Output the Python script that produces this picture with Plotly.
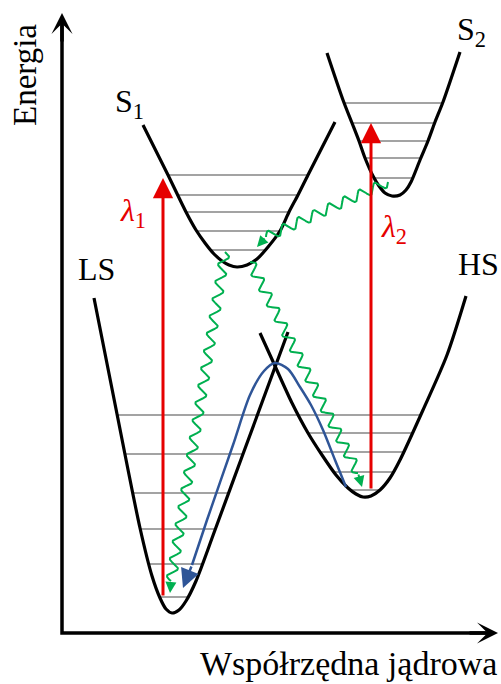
import numpy as np
import plotly.graph_objects as go

# ---- Potential energy curves: nuclear coordinate Q vs energy E ----
ls_q = [32, 55, 78, 90, 98, 104, 110, 117, 124, 134, 153, 181, 226]
ls_e = [335, 219, 105, 57, 35, 24, 20, 23, 32, 52, 103, 179, 301]

hs_q = [198, 213, 230, 246, 260, 274, 286, 294, 301, 309, 318, 328, 338, 361, 385, 404]
hs_e = [300, 267, 230, 200, 178, 158, 145, 139, 136, 137, 143, 155, 173, 223, 278, 337]

s1_q = [81, 106, 124, 134, 143, 152, 160, 167, 175, 185, 195, 206, 218, 227, 236, 246, 273]
s1_e = [508, 458, 421, 403, 390, 379, 372, 368, 366, 368, 374, 386, 402, 421, 438, 458, 511]

s2_q = [265, 281, 290, 297, 303, 311, 317, 323, 330, 338, 344, 349, 358, 366, 373, 381, 398]
s2_e = [580, 533, 510, 492, 475, 457, 447, 440, 437, 438, 443, 451, 473, 492, 511, 531, 581]

# ---- Vibrational levels (energies) ----
ls_levels = [179, 140, 104, 69, 36]
hs_levels = [200, 181, 161, 143]
shared_level = 218          # spans the LS and HS wells together
s1_levels = [458, 438, 421, 402, 383]
s2_levels = [530, 510, 492, 475, 455]

# ---- Transitions ----
lambda1_q, lambda1_from, lambda1_to = 101, 36, 455
lambda2_q, lambda2_from, lambda2_to = 309, 143, 510

# relaxation paths (start, end of wave, arrow tip)
green_paths = [
    ((326, 451), (204, 396), (195, 386)),
    ((163, 381), (109, 52), (108, 40)),
    ((188, 371), (296, 160), (300, 146)),
]

# pathway over the crossing point
blue_q = [284, 273, 261, 249, 238, 226, 213, 202, 188, 171, 145, 130]
blue_e = [146, 173, 203, 228, 246, 264, 270, 262, 238, 188, 113, 68]
blue_tip = (121, 45)

AXIS_Q_END = 436
AXIS_E_END = 620

BLACK = "#000000"
GREY = "#a3a3a3"
RED = "#e60000"
GREEN = "#00b050"
BLUE = "#2f5597"
FONT = "Liberation Serif, Times New Roman, serif"


def crossing(q, e, level, side):
    q = np.asarray(q, float)
    e = np.asarray(e, float)
    i = int(np.argmin(e))
    if side == "left":
        return float(np.interp(level, e[:i + 1][::-1], q[:i + 1][::-1]))
    return float(np.interp(level, e[i:], q[i:]))


def squiggle(p0, p1, amp=4.8, wavelength=17.5):
    p0 = np.asarray(p0, float)
    p1 = np.asarray(p1, float)
    d = p1 - p0
    length = np.hypot(*d)
    n_waves = max(1, round(length / wavelength))
    t = np.linspace(0, 1, int(length * 4))
    normal = np.array([-d[1], d[0]]) / length
    off = amp * np.sin(2 * np.pi * n_waves * t)
    pts = p0[None, :] + t[:, None] * d[None, :] + off[:, None] * normal[None, :]
    return pts[:, 0], pts[:, 1]


fig = go.Figure()


def add_line(x, y, color, width, shape="linear"):
    fig.add_trace(go.Scatter(x=x, y=y, mode="lines", hoverinfo="skip",
                             line=dict(color=color, width=width, shape=shape,
                                       smoothing=0.8)))


# vibrational levels
for curve, levels in (((ls_q, ls_e), ls_levels), ((hs_q, hs_e), hs_levels),
                      ((s1_q, s1_e), s1_levels), ((s2_q, s2_e), s2_levels)):
    for lv in levels:
        add_line([crossing(*curve, lv, "left"), crossing(*curve, lv, "right")],
                 [lv, lv], GREY, 2)
add_line([crossing(ls_q, ls_e, shared_level, "left"),
          crossing(hs_q, hs_e, shared_level, "right")],
         [shared_level, shared_level], GREY, 2)

# potential curves
for q, e in ((ls_q, ls_e), (hs_q, hs_e), (s1_q, s1_e), (s2_q, s2_e)):
    add_line(q, e, BLACK, 3.2, "spline")

# coordinate axes
add_line([0, 0, AXIS_Q_END - 12], [AXIS_E_END - 12, 0, 0], BLACK, 3.5)

# green non-radiative relaxation
for start, end, tip in green_paths:
    wx, wy = squiggle(start, end)
    add_line(wx, wy, GREEN, 2)

# blue pathway
add_line(blue_q, blue_e, BLUE, 2.5, "spline")

annotations = []


def arrow(tip, tail, color, width, size, head):
    annotations.append(dict(x=tip[0], y=tip[1], ax=tail[0], ay=tail[1],
                            xref="x", yref="y", axref="x", ayref="y",
                            showarrow=True, arrowhead=head, arrowsize=size,
                            arrowwidth=width, arrowcolor=color, standoff=0,
                            text=""))


arrow((0, AXIS_E_END), (0, AXIS_E_END - 30), BLACK, 3.5, 1.0, 3)
arrow((AXIS_Q_END, 0), (AXIS_Q_END - 30, 0), BLACK, 3.5, 1.0, 3)

arrow((lambda1_q, lambda1_to), (lambda1_q, lambda1_from), RED, 3, 1.35, 2)
arrow((lambda2_q, lambda2_to), (lambda2_q, lambda2_from), RED, 3, 1.35, 2)

for start, end, tip in green_paths:
    arrow(tip, end, GREEN, 2, 1.1, 2)

arrow(blue_tip, (blue_q[-1], blue_e[-1]), BLUE, 2.5, 1.5, 2)


def label(text, q, e, size=32, color=BLACK, xanchor="left", angle=0):
    annotations.append(dict(x=q, y=e, xref="x", yref="y", text=text,
                            showarrow=False, xanchor=xanchor, yanchor="middle",
                            textangle=angle,
                            font=dict(family=FONT, size=size, color=color)))


label("S<sub>1</sub>", 51, 530)
label("S<sub>2</sub>", 393, 602)
label("LS", 14, 364)
label("HS", 394, 369)
label("<i>λ</i><sub>1</sub>", 56, 421, color=RED)
label("<i>λ</i><sub>2</sub>", 317, 405, color=RED)
label("Energia", -37, 558, size=33, xanchor="center", angle=-90)
label("Współrzędna jądrowa", 286, -30, size=34, xanchor="center")

fig.update_layout(
    width=501, height=684,
    margin=dict(l=0, r=0, t=0, b=0),
    paper_bgcolor="white", plot_bgcolor="white",
    showlegend=False,
    annotations=annotations,
    xaxis=dict(visible=False, range=[-62, 439], fixedrange=True),
    yaxis=dict(visible=False, range=[-51, 633], fixedrange=True),
)

fig.write_html("out.html")
